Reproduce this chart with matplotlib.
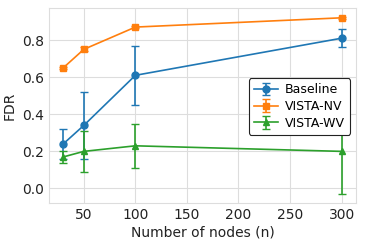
import matplotlib
matplotlib.use("Agg")
import matplotlib.pyplot as plt

nodes = [30, 50, 100, 300]
baseline = [0.24, 0.34, 0.61, 0.81]
baseline_err = [0.08, 0.18, 0.16, 0.05]
nv = [0.65, 0.75, 0.87, 0.92]
nv_err = [0.005, 0.01, 0.005, 0.005]
wv = [0.17, 0.20, 0.23, 0.20]
wv_err = [0.03, 0.11, 0.12, 0.23]

plt.rcParams['font.family'] = ['DejaVu Sans']
fig = plt.figure(figsize=(3.65, 2.43), dpi=100)
ax = fig.add_axes([0.135, 0.165, 0.839, 0.802])

ax.errorbar(nodes, baseline, yerr=baseline_err, color='#1f77b4', marker='o', ms=5, capsize=3, lw=1.2, label='Baseline')
ax.errorbar(nodes, nv, yerr=nv_err, color='#ff7f0e', marker='s', ms=5, capsize=3, lw=1.2, label='VISTA-NV')
ax.errorbar(nodes, wv, yerr=wv_err, color='#2ca02c', marker='^', ms=5, capsize=3, lw=1.2, label='VISTA-WV')

ax.set_xticks([50, 100, 150, 200, 250, 300])
ax.set_yticks([0.0, 0.2, 0.4, 0.6, 0.8])
ax.grid(True, color='#dddddd', lw=0.8)
ax.set_axisbelow(True)
for s in ax.spines.values():
    s.set_color('#dddddd')
ax.tick_params(length=0, labelsize=10, colors='#222222', pad=4)
ax.set_xlabel('Number of nodes (n)', fontsize=10, color='#222222', labelpad=2)
ax.set_ylabel('FDR', fontsize=10, color='#222222')
leg = ax.legend(loc='center right', bbox_to_anchor=(1.003, 0.495), fontsize=9, frameon=True,
                edgecolor='#222222', fancybox=True, handlelength=1.9, borderpad=0.4,
                labelspacing=0.3, framealpha=1.0, handletextpad=0.6)
leg.get_frame().set_linewidth(0.8)
leg.set_zorder(10)

fig.savefig('out.png', dpi=100)
